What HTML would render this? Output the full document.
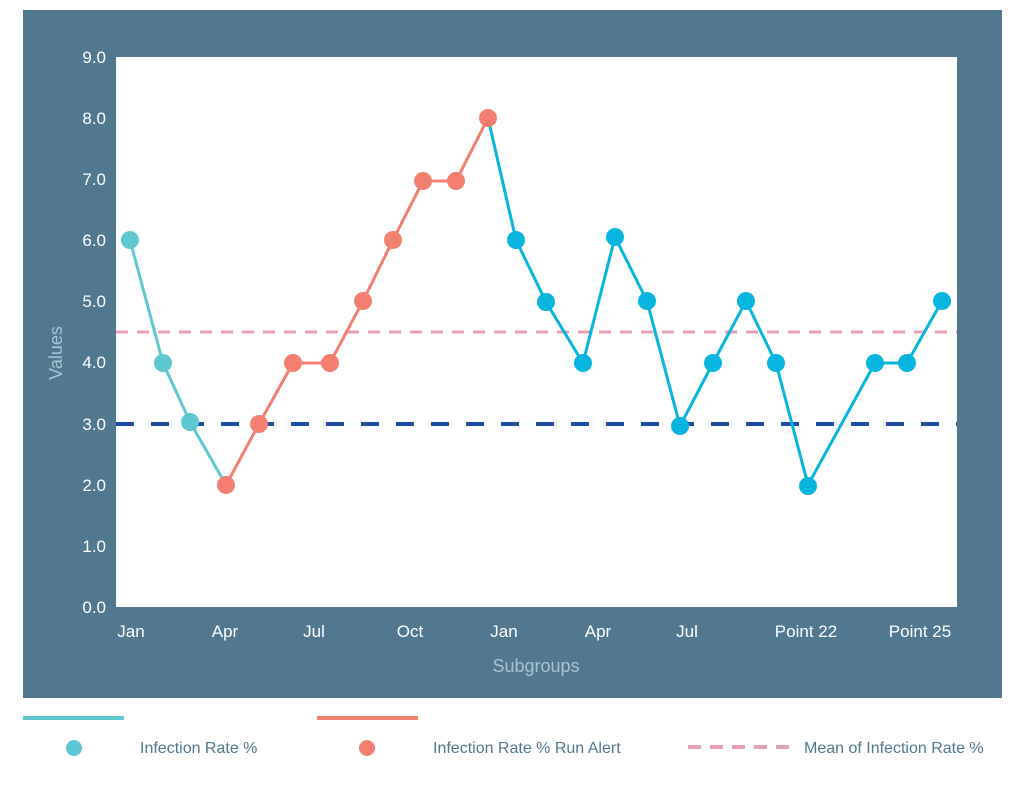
<!DOCTYPE html>
<html><head><style>body{margin:0;background:#fff;width:1024px;height:781px;overflow:hidden}</style></head><body>
<svg width="1024" height="781" xmlns="http://www.w3.org/2000/svg" font-family="Liberation Sans, sans-serif">
<rect x="23" y="10" width="979" height="688" fill="#51788f"/>
<rect x="116" y="57" width="841" height="550" fill="#fff"/>
<g fill="#fff" font-size="17" text-anchor="end">
<text x="106" y="63">9.0</text><text x="106" y="124">8.0</text><text x="106" y="185">7.0</text><text x="106" y="246">6.0</text><text x="106" y="307">5.0</text><text x="106" y="368">4.0</text><text x="106" y="430">3.0</text><text x="106" y="491">2.0</text><text x="106" y="552">1.0</text><text x="106" y="613">0.0</text>
</g>
<g fill="#fff" font-size="17" text-anchor="middle">
<text x="131" y="637">Jan</text><text x="225" y="637">Apr</text><text x="314" y="637">Jul</text><text x="410" y="637">Oct</text><text x="504" y="637">Jan</text><text x="598" y="637">Apr</text><text x="687" y="637">Jul</text><text x="806" y="637">Point 22</text><text x="920" y="637">Point 25</text>
</g>
<text x="536" y="672" fill="#a9c3d3" font-size="18" text-anchor="middle">Subgroups</text>
<text transform="translate(62,353) rotate(-90)" fill="#a9c3d3" font-size="18" text-anchor="middle">Values</text>
<line x1="116" y1="332" x2="957" y2="332" stroke="#e4a0b5" stroke-width="3" stroke-dasharray="12,9"/>
<line x1="116" y1="424" x2="957" y2="424" stroke="#1e4ea3" stroke-width="4" stroke-dasharray="18,17"/>
<polyline fill="none" stroke="#5ec8d0" stroke-width="3" points="130,240 163,363 190,422 226,485"/>
<polyline fill="none" stroke="#f47f70" stroke-width="3" points="226,485 259,424 293,363 330,363 363,301 393,240 423,181 456,181 488,118"/>
<polyline fill="none" stroke="#07b5de" stroke-width="3" points="488,118 516,240 546,302 583,363 615,237 647,301 680,426 713,363 746,301 776,363 808,485 875,363 907,363 942,301"/>
<g fill="#5ec8d0"><circle cx="130" cy="240" r="9"/><circle cx="163" cy="363" r="9"/><circle cx="190" cy="422" r="9"/></g>
<g fill="#f47f70"><circle cx="226" cy="485" r="9"/><circle cx="259" cy="424" r="9"/><circle cx="293" cy="363" r="9"/><circle cx="330" cy="363" r="9"/><circle cx="363" cy="301" r="9"/><circle cx="393" cy="240" r="9"/><circle cx="423" cy="181" r="9"/><circle cx="456" cy="181" r="9"/><circle cx="488" cy="118" r="9"/></g>
<g fill="#07b5de"><circle cx="516" cy="240" r="9"/><circle cx="546" cy="302" r="9"/><circle cx="583" cy="363" r="9"/><circle cx="615" cy="237" r="9"/><circle cx="647" cy="301" r="9"/><circle cx="680" cy="426" r="9"/><circle cx="713" cy="363" r="9"/><circle cx="746" cy="301" r="9"/><circle cx="776" cy="363" r="9"/><circle cx="808" cy="486" r="9"/><circle cx="875" cy="363" r="9"/><circle cx="907" cy="363" r="9"/><circle cx="942" cy="301" r="9"/></g>
<rect x="23" y="716" width="101" height="4" fill="#5ec8d0"/>
<rect x="317" y="716" width="101" height="4" fill="#f47f70"/>
<circle cx="74" cy="748" r="8" fill="#5ec8d0"/>
<circle cx="367" cy="748" r="8" fill="#f47f70"/>
<line x1="688" y1="747" x2="790" y2="747" stroke="#e4a0b5" stroke-width="4" stroke-dasharray="13,9"/>
<g fill="#51788f" font-size="16"><text x="140" y="753">Infection Rate %</text><text x="433" y="753">Infection Rate % Run Alert</text><text x="804" y="753">Mean of Infection Rate %</text></g>
</svg>
</body></html>
